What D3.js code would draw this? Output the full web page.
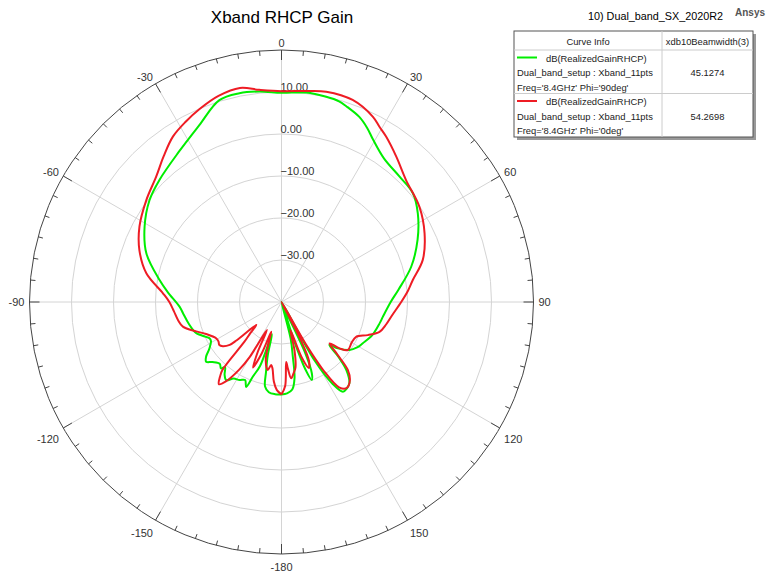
<!DOCTYPE html>
<html>
<head>
<meta charset="utf-8">
<script src="https://cdn.jsdelivr.net/npm/d3@7"></script>
<style>
  body { margin: 0; background: #fff; }
  svg { display: block; font-family: "Liberation Sans", Arial, sans-serif; }
</style>
</head>
<body>
<div id="chart"></div>
<script>
// theta (deg) / gain (dB)
var thetaPhi90 = [-180,-176,-172,-169,-167.5,-165.5,-163.5,-161.5,-159,-157.4,-155,-151.7,-148,-144.7,-142,-139,-137.7,-135,-131,-128.4,-126,-123,-119,-116.8,-110.1,-103,-96.5,-92.6,-85,-79.8,-70.2,-61.2,-52.3,-45,-34.4,-25,-17.1,-11.4,-6,0,6.7,12.3,16,18.3,22.8,26.2,29.4,35.5,43.3,50.4,57,65.5,74.8,84,90,98.2,102.3,110,116.9,121,125.2,129.4,131.9,134,136.4,140.1,143,145.6,148,150.5,152.5,155,157,158.8,160.5,162,164,166,168.3,170.3,173,176.5,180];
var gainPhi90 = [-18,-18,-18.3,-19.5,-23,-27,-32,-24,-21,-18.1,-19.5,-18.9,-18.5,-17.2,-18,-19.5,-18.6,-19.2,-18.2,-17.1,-17.8,-19.5,-20.8,-20.8,-18.4,-17.3,-16.4,-15.7,-12.8,-10.5,-5.8,-2.8,-0.3,1.1,3.3,6.4,10.3,10.7,10.4,9.8,10.2,10,9.7,9.1,7.8,6.2,4.4,2,1,0.6,-1.3,-4.4,-8,-12,-14,-15.6,-16.1,-17,-18.3,-19,-20.2,-22.6,-24.7,-21,-17.6,-14.8,-14.2,-14.1,-17,-24,-45,-27,-21.5,-20.1,-23,-30,-45,-31,-26.7,-21.6,-19,-18.2,-18];

var thetaPhi0 = [-180,-177,-174.5,-172.3,-170.7,-168.6,-165,-162.5,-161,-159,-156.5,-154.5,-152.5,-150,-148,-145,-142.7,-140.5,-139,-137,-135,-132.3,-130.5,-129.6,-127,-124.7,-122,-119,-113,-109,-104,-100,-95,-90,-85.8,-78,-70,-62,-53,-45,-39,-33.3,-28,-23,-17,-11,-6,0,6.7,12,19.4,26.2,29.2,32.3,38.3,45.6,55.4,64.3,73.4,80.5,85,90,97,102,107,111,115,120,125.9,128.6,130.7,133.3,135.7,139,143,146,148.5,150,151.5,153,155,157.5,160,162.5,165,168,170,172.8,174.5,175.5,177.5,180];
var gainPhi0 = [-18,-19,-21,-24,-24.8,-23.5,-25.5,-30,-32.5,-27,-23,-27,-32.5,-25,-21,-16.9,-15.4,-17,-18.6,-27,-29.5,-31.9,-26,-24,-22.5,-22,-22.3,-22.2,-20.5,-18.5,-15.8,-15,-14.3,-13.3,-11.7,-7.1,-4,-1.7,0.3,2.2,4.6,7.1,8.6,9.9,11.3,11.9,10.8,10.2,10.6,11.2,11,9.2,7.8,6.6,4.1,1.5,-0.1,-2.2,-4.9,-8.3,-9.8,-11.5,-13.5,-14.5,-15.6,-18,-20.4,-20.7,-20.5,-22.3,-24.9,-21.6,-17.4,-15.2,-14.3,-15.5,-21,-28,-45,-30,-24.5,-23,-26,-33,-28,-24,-23,-21.7,-24,-25.7,-20,-18];

var ringValues = [-30, -20, -10, 0, 10];
var angleLabels = [0, 30, 60, 90, 120, 150, -180, -150, -120, -90, -60, -30];
var curveNames = ["dB(RealizedGainRHCP)", "dB(RealizedGainRHCP)"];
var setupNames = ["Dual_band_setup : Xband_11pts", "Dual_band_setup : Xband_11pts"];
var freqPhi = ["Freq='8.4GHz' Phi='90deg'", "Freq='8.4GHz' Phi='0deg'"];
var beamwidths = ["45.1274", "54.2698"];
var colors = ["#00ee00", "#ee1c24"];

var width = 766, height = 578;
var cx = 281.5, cy = 302, R = 252;

var svg = d3.select("#chart").append("svg")
  .attr("width", width).attr("height", height);
svg.append("rect").attr("width", width).attr("height", height).attr("fill", "#fff");

var r = d3.scaleLinear().domain([-40, 20]).range([0, R]).clamp(true);
var rad = function(a) { return a * Math.PI / 180; };

var g = svg.append("g").attr("transform", "translate(" + cx + "," + cy + ")");

// rings
g.selectAll("circle.ring").data(ringValues).enter().append("circle")
  .attr("class", "ring")
  .attr("r", function(d) { return r(d); })
  .attr("fill", "none").attr("stroke", "#d4d4d4").attr("stroke-width", 1);

// spokes
g.selectAll("line.spoke").data(d3.range(0, 360, 30)).enter().append("line")
  .attr("x1", 0).attr("y1", 0)
  .attr("x2", function(d) { return R * Math.sin(rad(d)); })
  .attr("y2", function(d) { return -R * Math.cos(rad(d)); })
  .attr("stroke", "#d4d4d4").attr("stroke-width", 1);

// outer circle + ticks
g.append("circle").attr("r", R).attr("fill", "none").attr("stroke", "#444").attr("stroke-width", 1);
g.selectAll("line.tick").data(d3.range(0, 360, 5)).enter().append("line")
  .attr("x1", function(d) { return R * Math.sin(rad(d)); })
  .attr("y1", function(d) { return -R * Math.cos(rad(d)); })
  .attr("x2", function(d) { var l = d % 30 === 0 ? 10 : 5; return (R - l) * Math.sin(rad(d)); })
  .attr("y2", function(d) { var l = d % 30 === 0 ? 10 : 5; return -(R - l) * Math.cos(rad(d)); })
  .attr("stroke", "#444").attr("stroke-width", 1);

// angle labels
g.selectAll("text.alab").data(angleLabels).enter().append("text")
  .attr("x", function(d) { return (R + 5) * Math.sin(rad(d)); })
  .attr("y", function(d) {
    var c = Math.cos(rad(d));
    return -(R + 5) * c + (c > 0.3 ? 2 : (c < -0.3 ? 12 : 4));
  })
  .attr("text-anchor", function(d) {
    var s = Math.sin(rad(d));
    return s > 0.1 ? "start" : (s < -0.1 ? "end" : "middle");
  })
  .attr("font-size", 11).attr("fill", "#333")
  .text(function(d) { return d; });

// ring labels
g.selectAll("text.rlab").data(ringValues).enter().append("text")
  .attr("x", -1).attr("y", function(d) { return -r(d) - 1; })
  .attr("font-size", 11).attr("fill", "#333")
  .text(function(d) { return d3.format(".2f")(d); });

// curves
var line = d3.lineRadial()
  .angle(function(d) { return rad(d[0]); })
  .radius(function(d) { return r(d[1]); })
  .curve(d3.curveCatmullRom.alpha(0.5));

var series = [d3.zip(thetaPhi90, gainPhi90), d3.zip(thetaPhi0, gainPhi0)];
g.selectAll("path.curve").data(series).enter().append("path")
  .attr("d", line)
  .attr("fill", "none")
  .attr("stroke", function(d, i) { return colors[i]; })
  .attr("stroke-width", 2)
  .attr("stroke-linejoin", "round");

// titles
svg.append("text").attr("x", 282).attr("y", 23).attr("text-anchor", "middle")
  .attr("font-size", 17).attr("fill", "#000").text("Xband RHCP Gain");
svg.append("text").attr("x", 588).attr("y", 20)
  .attr("font-size", 10.8).attr("fill", "#000").text("10) Dual_band_SX_2020R2");
svg.append("text").attr("x", 765).attr("y", 16).attr("text-anchor", "end")
  .attr("font-size", 10).attr("font-weight", "bold").attr("fill", "#555").text("Ansys");

// legend table
var lx0 = 514, lx1 = 753, ly0 = 31, ly1 = 137, colX = 662, headY = 50, rowH = 43.5;
var fs = 9.4;
var leg = svg.append("g");
leg.append("rect").attr("x", lx0 + 3).attr("y", ly0 + 3).attr("width", lx1 - lx0).attr("height", ly1 - ly0).attr("fill", "#999");
leg.append("rect").attr("x", lx0).attr("y", ly0).attr("width", lx1 - lx0).attr("height", ly1 - ly0)
  .attr("fill", "#fff").attr("stroke", "#555");
leg.append("line").attr("x1", colX).attr("x2", colX).attr("y1", ly0).attr("y2", ly1).attr("stroke", "#ccc");
[headY, headY + rowH].forEach(function(y) {
  leg.append("line").attr("x1", lx0).attr("x2", lx1).attr("y1", y).attr("y2", y).attr("stroke", "#ccc");
});
leg.append("text").attr("x", (lx0 + colX) / 2).attr("y", 44.5).attr("text-anchor", "middle")
  .attr("font-size", fs).attr("fill", "#222").text("Curve Info");
leg.append("text").attr("x", (colX + lx1) / 2).attr("y", 44.5).attr("text-anchor", "middle")
  .attr("font-size", fs).attr("fill", "#222").text("xdb10Beamwidth(3)");

curveNames.forEach(function(name, i) {
  var y = headY + i * rowH;
  leg.append("line").attr("x1", 517).attr("x2", 537).attr("y1", y + 7.5).attr("y2", y + 7.5)
    .attr("stroke", colors[i]).attr("stroke-width", 2);
  leg.append("text").attr("x", 546).attr("y", y + 11.5).attr("font-size", fs).attr("fill", "#222").text(name);
  leg.append("text").attr("x", 517).attr("y", y + 26).attr("font-size", fs).attr("fill", "#222").text(setupNames[i]);
  leg.append("text").attr("x", 517).attr("y", y + 40.5).attr("font-size", fs).attr("fill", "#222").text(freqPhi[i]);
  leg.append("text").attr("x", (colX + lx1) / 2).attr("y", y + 26).attr("text-anchor", "middle")
    .attr("font-size", fs).attr("fill", "#222").text(beamwidths[i]);
});
</script>
</body>
</html>
